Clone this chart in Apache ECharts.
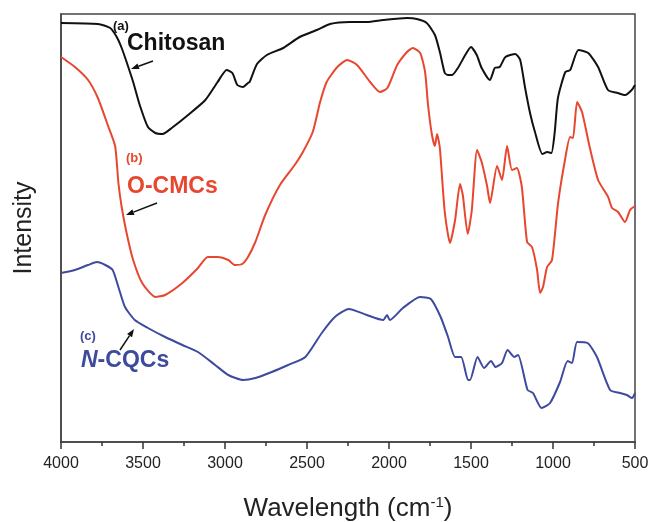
<!DOCTYPE html>
<html>
<head>
<meta charset="utf-8">
<script src="https://cdn.jsdelivr.net/npm/echarts@6/dist/echarts.min.js"></script>
<style>
  html, body { margin: 0; padding: 0; background: #fff; }
  #main { width: 650px; height: 522px; }
</style>
</head>
<body>
<div id="main"></div>
<script>
// FTIR spectra, [wavenumber cm-1, intensity (a.u.)]
var chitosan = [
  [4000, 419], [3775, 418], [3700, 414], [3660, 405], [3630, 394], [3600, 380],
  [3560, 360], [3520, 337], [3470, 315], [3425, 309], [3380, 308], [3325, 314],
  [3225, 327], [3120, 342], [3045, 360], [2990, 372], [2955, 369], [2925, 357],
  [2890, 355], [2860, 359], [2850, 360], [2805, 378], [2745, 387], [2645, 394],
  [2545, 405], [2440, 412], [2360, 418], [2240, 420], [2135, 420], [2035, 422],
  [1890, 424], [1830, 423], [1770, 419], [1720, 407], [1690, 390], [1660, 369],
  [1640, 367], [1615, 367], [1580, 374], [1535, 387], [1500, 395], [1465, 387],
  [1435, 374], [1385, 362], [1355, 374], [1325, 375], [1290, 385], [1230, 388],
  [1200, 382], [1170, 354], [1140, 329], [1110, 310], [1065, 288], [1035, 290],
  [1010, 289], [990, 309], [970, 344], [925, 370], [895, 372], [845, 392],
  [785, 389], [725, 375], [665, 352], [605, 349], [560, 347], [520, 352], [500, 357]
];

var oCMCs = [
  [4000, 385], [3915, 375], [3835, 362], [3775, 344], [3715, 317], [3670, 296],
  [3650, 259], [3630, 235], [3600, 209], [3560, 182], [3505, 159], [3425, 145],
  [3365, 147], [3260, 159], [3165, 174], [3105, 185], [3045, 185], [2980, 182],
  [2940, 177], [2895, 178], [2860, 185], [2815, 200], [2755, 227], [2665, 257],
  [2575, 277], [2525, 290], [2465, 310], [2420, 340], [2380, 360], [2315, 375],
  [2255, 382], [2195, 377], [2115, 360], [2055, 350], [2010, 354], [1950, 377],
  [1890, 390], [1855, 394], [1810, 389], [1780, 370], [1762, 337], [1738, 307],
  [1720, 296], [1707, 308], [1690, 294], [1660, 230], [1628, 199], [1597, 222],
  [1567, 258], [1550, 247], [1520, 208], [1495, 232], [1463, 292], [1435, 280],
  [1402, 256], [1384, 239], [1341, 276], [1311, 262], [1280, 296], [1250, 272],
  [1220, 274], [1190, 255], [1158, 200], [1128, 195], [1097, 172], [1079, 149],
  [1061, 155], [1036, 175], [1006, 182], [969, 239], [927, 282], [896, 305],
  [878, 304], [853, 340], [823, 330], [775, 294], [725, 262], [664, 245],
  [640, 234], [603, 230], [561, 220], [530, 232], [500, 236]
];

var nCQCs = [
  [4000, 169], [3915, 172], [3835, 177], [3780, 180], [3730, 177], [3685, 172],
  [3650, 155], [3610, 135], [3550, 122], [3470, 114], [3365, 105], [3260, 97],
  [3165, 90], [3060, 77], [2980, 67], [2890, 62], [2815, 64], [2715, 70],
  [2615, 77], [2510, 85], [2410, 109], [2330, 125], [2245, 133], [2135, 127],
  [2035, 122], [2012, 127], [1995, 122], [1915, 134], [1810, 145], [1745, 143],
  [1685, 125], [1640, 105], [1597, 85], [1560, 85], [1518, 62], [1506, 62],
  [1460, 85], [1420, 74], [1378, 81], [1350, 75], [1311, 79], [1277, 92],
  [1235, 85], [1213, 87], [1155, 52], [1122, 49], [1070, 34], [1018, 39],
  [957, 60], [911, 81], [884, 79], [853, 100], [789, 99], [732, 85],
  [652, 52], [591, 49], [549, 47], [518, 44], [500, 49]
];

var seriesNames = ['Chitosan', 'O-CMCs', 'N-CQCs'];
var seriesColors = ['#111111', '#e8472f', '#3d4a9e'];

var FONT = '"Liberation Sans", Arial, sans-serif';

// small arrow: line + filled head at (x2, y2)
function arrow(x1, y1, x2, y2, color) {
  var a = Math.atan2(y2 - y1, x2 - x1);
  var L = 8, W = 3;
  var bx = x2 - L * Math.cos(a), by = y2 - L * Math.sin(a);
  var px = -Math.sin(a) * W, py = Math.cos(a) * W;
  return {
    type: 'group',
    silent: true,
    children: [
      { type: 'line', shape: { x1: x1, y1: y1, x2: bx, y2: by }, style: { stroke: color, lineWidth: 1.5 } },
      { type: 'polygon', shape: { points: [[x2, y2], [bx + px, by + py], [bx - px, by - py]] }, style: { fill: color } }
    ]
  };
}

function label(x, y, text, color, size, rich) {
  return {
    type: 'text', left: x, top: y, silent: true,
    style: { text: text, fill: color, font: 'bold ' + size + 'px ' + FONT, rich: rich }
  };
}

var myChart = echarts.init(document.getElementById('main'));

var option = {
  backgroundColor: '#fff',
  animation: false,
  grid: {
    left: 61, right: 15, top: 14, bottom: 80, outerBoundsMode: 'none',
    show: true, borderColor: '#444', borderWidth: 1.5
  },
  xAxis: {
    type: 'value', inverse: true, min: 500, max: 4000, interval: 500,
    name: 'Wavelength (cm{sup|-1})',
    nameLocation: 'middle', nameGap: 53,
    nameTextStyle: {
      fontSize: 26, color: '#222', fontFamily: FONT,
      rich: { sup: { fontSize: 15, color: '#222', fontFamily: FONT, verticalAlign: 'bottom', padding: [0, 0, 13, 0] } }
    },
    axisLine: { lineStyle: { color: '#444', width: 1.5 } },
    axisTick: { length: 7, lineStyle: { color: '#333', width: 1.5 } },
    minorTick: { show: true, splitNumber: 2, length: 4, lineStyle: { color: '#333', width: 1.5 } },
    splitLine: { show: false },
    axisLabel: {
      fontSize: 16, color: '#222', margin: 14, fontFamily: FONT,
      formatter: function (v) { return String(v); }
    }
  },
  yAxis: {
    type: 'value', min: 0, max: 428,
    name: 'Intensity', nameLocation: 'middle', nameGap: 24,
    nameTextStyle: { fontSize: 25, color: '#222', fontFamily: FONT },
    axisLine: { show: true, lineStyle: { color: '#444', width: 1.5 } },
    axisTick: { show: false },
    axisLabel: { show: false },
    splitLine: { show: false }
  },
  series: [chitosan, oCMCs, nCQCs].map(function (d, i) {
    return {
      name: seriesNames[i], type: 'line', data: d,
      showSymbol: false, smooth: 0.2,
      lineStyle: { color: seriesColors[i], width: 2 }
    };
  }),
  graphic: [
    label(113, 20, '(a)', '#111', 13),
    label(127, 32, 'Chitosan', '#111', 23),
    arrow(153, 61, 131, 69, '#111'),
    label(126, 152, '(b)', '#e8472f', 13),
    label(127, 175, 'O-CMCs', '#e8472f', 23),
    arrow(157, 203, 126, 215, '#111'),
    label(80, 330, '(c)', '#3d4a9e', 13),
    label(81, 349, '{i|N}-CQCs', '#3d4a9e', 23,
      { i: { fontStyle: 'italic', fontWeight: 'bold', fontSize: 23, fontFamily: FONT, fill: '#3d4a9e' } }),
    arrow(120, 350, 134, 329, '#111')
  ]
};

myChart.setOption(option);
</script>
</body>
</html>
